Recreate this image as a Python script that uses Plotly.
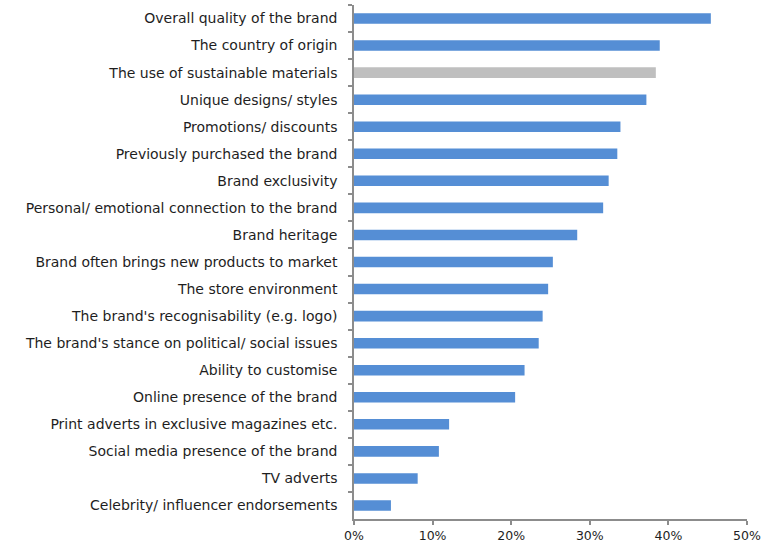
import plotly.graph_objects as go

# Factors, listed top to bottom, with the share of respondents citing each
factors = [
    "Overall quality of the brand",
    "The country of origin",
    "The use of sustainable materials",
    "Unique designs/ styles",
    "Promotions/ discounts",
    "Previously purchased the brand",
    "Brand exclusivity",
    "Personal/ emotional connection to the brand",
    "Brand heritage",
    "Brand often brings new products to market",
    "The store environment",
    "The brand's recognisability (e.g. logo)",
    "The brand's stance on political/ social issues",
    "Ability to customise",
    "Online presence of the brand",
    "Print adverts in exclusive magazines etc.",
    "Social media presence of the brand",
    "TV adverts",
    "Celebrity/ influencer endorsements",
]
shares = [0.454, 0.389, 0.384, 0.372, 0.339, 0.335, 0.324, 0.317, 0.284, 0.253,
          0.247, 0.240, 0.235, 0.217, 0.205, 0.121, 0.108, 0.081, 0.047]
highlight = "The use of sustainable materials"
x_ticks = [0, 0.1, 0.2, 0.3, 0.4, 0.5]

BLUE = "#558ed5"
GREY = "#bfbfbf"
AXIS = "#8c8c8c"
colors = [GREY if f == highlight else BLUE for f in factors]

fig = go.Figure(
    go.Bar(
        x=shares,
        y=factors,
        orientation="h",
        marker=dict(color=colors, line=dict(width=0)),
        hoverinfo="x+y",
    )
)

fig.update_layout(
    width=773,
    height=544,
    margin=dict(l=354, r=26, t=5, b=25),
    paper_bgcolor="white",
    plot_bgcolor="white",
    bargap=0.61,
    showlegend=False,
    font=dict(family="DejaVu Sans", size=14, color="#1e1e1e"),
)

fig.update_xaxes(
    automargin=False,
    range=[0, 0.5],
    tickvals=x_ticks,
    tickformat=".0%",
    showgrid=False,
    zeroline=False,
    showline=True,
    linecolor=AXIS,
    linewidth=1.5,
    ticks="outside",
    ticklen=4,
    tickcolor=AXIS,
    tickwidth=1.5,
    ticklabelstandoff=0,
    tickfont=dict(size=12.5),
)

fig.update_yaxes(
    automargin=False,
    autorange="reversed",
    showgrid=False,
    zeroline=False,
    showline=True,
    linecolor=AXIS,
    linewidth=1.5,
    ticks="outside",
    tickson="boundaries",
    ticklen=4,
    tickcolor=AXIS,
    tickwidth=1.5,
    ticklabelstandoff=12,
)

fig.write_html("out.html")
